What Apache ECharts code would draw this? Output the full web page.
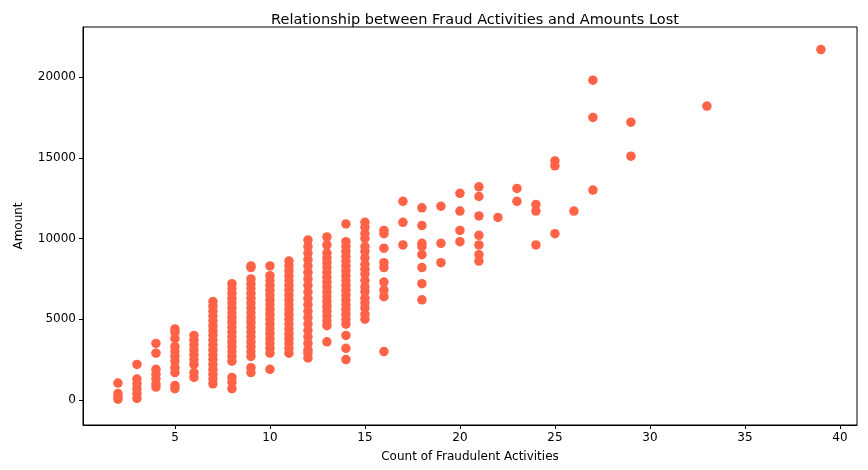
<!DOCTYPE html>
<html>
<head>
<meta charset="utf-8">
<script src="https://cdn.jsdelivr.net/npm/echarts@6/dist/echarts.min.js"></script>
<style>html,body{margin:0;padding:0;background:#fff}#c{width:868px;height:470px}</style>
</head>
<body>
<div id="c"></div>
<script>
// 每个欺诈次数对应的损失金额
const counts = [2, 3, 4, 5, 6, 7, 8, 9, 10, 11, 12, 13, 14, 15, 16, 17, 18, 19, 20, 21, 22, 23, 24, 25, 26, 27, 29, 33, 39]
const amounts = [
    [1050, 400, 200, 50],
    [2200, 1300, 1000, 700, 400, 100],
    [3500, 2900, 1900, 1600, 1300, 1000, 800],
    [4400, 4200, 3800, 3300, 3000, 2700, 2400, 2000, 1700, 900, 700],
    [4000, 3700, 3400, 3100, 2800, 2500, 2200, 1700, 1400],
    [6100, 5800, 5500, 5200, 4900, 4600, 4300, 4000, 3700, 3400, 3100, 2800, 2500, 2200, 1900, 1600, 1300, 1000],
    [7200, 6900, 6600, 6300, 6000, 5700, 5400, 5100, 4800, 4500, 4200, 3900, 3600, 3300, 3000, 2700, 2400, 1400, 1100, 700],
    [8300, 8200, 7500, 7200, 6900, 6600, 6300, 6000, 5700, 5400, 5100, 4800, 4500, 4200, 3900, 3600, 3300, 3000, 2700, 2000, 1700],
    [8300, 7700, 7400, 7100, 6800, 6500, 6200, 5900, 5600, 5300, 5000, 4700, 4400, 4100, 3800, 3500, 3200, 2900, 1900],
    [8600, 8300, 8000, 7700, 7400, 7100, 6800, 6500, 6200, 5900, 5600, 5300, 5000, 4700, 4400, 4100, 3800, 3500, 3200, 2900],
    [9900, 9500, 9100, 8700, 8300, 7900, 7500, 7100, 6700, 6300, 5900, 5500, 5100, 4700, 4300, 3900, 3500, 3100, 2900, 2600],
    [10100, 9600, 9100, 8800, 8500, 8200, 7900, 7600, 7300, 7000, 6700, 6400, 6100, 5800, 5500, 5200, 4900, 4600, 3600],
    [10900, 9800, 9500, 9200, 8900, 8600, 8300, 8000, 7700, 7400, 7100, 6800, 6500, 6200, 5900, 5600, 5300, 5000, 4700, 4000, 3200, 2500],
    [11000, 10700, 10300, 10000, 9500, 9200, 8800, 8400, 8100, 7800, 7400, 7000, 6700, 6300, 6000, 5700, 5300, 5000],
    [10500, 10300, 9400, 8500, 8200, 7300, 6800, 6400, 3000],
    [12300, 11000, 9600],
    [11900, 10800, 9700, 9500, 9000, 8200, 7200, 6200],
    [12000, 9700, 8500],
    [12800, 11700, 10500, 9800],
    [13200, 12600, 11400, 10200, 9600, 9000, 8600],
    [11300],
    [13100, 12300],
    [12100, 11700, 9600],
    [14800, 14500, 10300],
    [11700],
    [19800, 17500, 13000],
    [17200, 15100],
    [18200],
    [21700]
]
const xTicks = [5, 10, 15, 20, 25, 30, 35, 40]
const yTicks = [0, 5000, 10000, 15000, 20000]

const points = []
counts.forEach((c, i) => amounts[i].forEach(v => points.push([c, v])))

const chart = echarts.init(document.getElementById('c'))
const axisText = { color: '#000', fontSize: 12, fontFamily: 'DejaVu Sans' }
chart.setOption({
    animation: false,
    title: {
        text: 'Relationship between Fraud Activities and Amounts Lost',
        left: 470, top: 8, textAlign: 'center',
        textStyle: { fontSize: 14.5, fontWeight: 'normal', color: '#000', fontFamily: 'DejaVu Sans' }
    },
    grid: { left: 83, right: 11, top: 27, bottom: 45, show: true, borderColor: '#000', borderWidth: 1 },
    xAxis: {
        type: 'value', min: 0.16, max: 40.9,
        name: 'Count of Fraudulent Activities', nameLocation: 'middle', nameGap: 26,
        nameTextStyle: axisText,
        splitLine: { show: false },
        axisLine: { onZero: false, lineStyle: { color: '#000' } },
        axisTick: { customValues: xTicks, length: 4, lineStyle: { color: '#000' } },
        axisLabel: Object.assign({ customValues: xTicks, margin: 7 }, axisText)
    },
    yAxis: {
        type: 'value', min: -1548, max: 23096,
        name: 'Amount', nameLocation: 'middle', nameGap: 58,
        nameTextStyle: axisText,
        splitLine: { show: false },
        axisLine: { show: true, onZero: false, lineStyle: { color: '#000' } },
        axisTick: { show: true, customValues: yTicks, length: 4, lineStyle: { color: '#000' } },
        axisLabel: Object.assign({ customValues: yTicks, margin: 7, formatter: v => String(v) }, axisText)
    },
    series: [{
        type: 'scatter',
        data: points,
        symbolSize: 9.5,
        itemStyle: { color: '#ff6347', opacity: 1 }
    }]
})
</script>
</body>
</html>
